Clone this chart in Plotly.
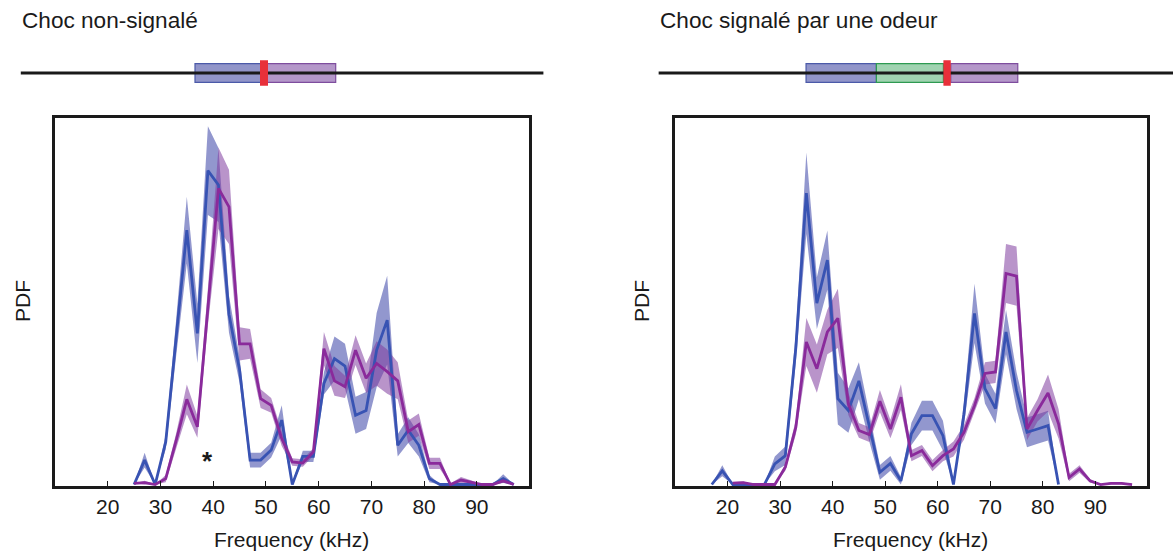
import plotly.graph_objects as go

# ---------------- data ----------------
# Left panel: "Choc non-signalé"
freq_left = list(range(25, 98, 2))
blue_left_mean = [0, 0.066, 0, 0.115, 0.40, 0.687, 0.408, 0.848, 0.809, 0.46,
                  0.31, 0.066, 0.066, 0.093, 0.174, 0, 0.076, 0.076, 0.273, 0.34,
                  0.32, 0.187, 0.20, 0.363, 0.444, 0.106, 0.147, 0.106, 0.016, 0,
                  0, 0, 0, 0, 0, 0.016, 0]
blue_left_sem = [0, 0.02, 0, 0.02, 0.05, 0.09, 0.08, 0.12, 0.10, 0.05,
                 0.035, 0.02, 0.02, 0.02, 0.04, 0.005, 0.015, 0.015, 0.03, 0.06,
                 0.06, 0.05, 0.05, 0.10, 0.12, 0.03, 0.035, 0.03, 0.01, 0,
                 0, 0, 0, 0, 0, 0.012, 0]
purple_left_mean = [0.003, 0.005, 0, 0.016, 0.12, 0.23, 0.156, 0.48, 0.80, 0.75,
                    0.38, 0.38, 0.232, 0.214, 0.124, 0.061, 0.058, 0.088, 0.367, 0.28,
                    0.264, 0.363, 0.287, 0.327, 0.305, 0.28, 0.143, 0.162, 0.057, 0.057,
                    0, 0.012, 0.006, 0, 0, 0.01, 0]
purple_left_sem = [0, 0.005, 0, 0.01, 0.02, 0.04, 0.03, 0.05, 0.11, 0.10,
                   0.045, 0.04, 0.025, 0.02, 0.02, 0.01, 0.01, 0.01, 0.045, 0.04,
                   0.03, 0.04, 0.04, 0.06, 0.06, 0.05, 0.03, 0.03, 0.015, 0.015,
                   0.003, 0.008, 0.005, 0, 0, 0.005, 0]

# Right panel: "Choc signalé par une odeur"
freq_right_blue = list(range(17, 84, 2))
blue_right_mean = [0, 0.037, 0, 0, 0, 0, 0.056, 0.078, 0.37, 0.787,
                   0.49, 0.606, 0.232, 0.20, 0.28, 0.155, 0.033, 0.057, 0.01, 0.137,
                   0.186, 0.186, 0.132, 0, 0.19, 0.462, 0.259, 0.205, 0.412, 0.254,
                   0.141, 0.15, 0.159, 0]
blue_right_sem = [0, 0.015, 0, 0, 0, 0, 0.02, 0.025, 0.04, 0.11,
                  0.07, 0.08, 0.07, 0.06, 0.05, 0.04, 0.02, 0.02, 0.01, 0.03,
                  0.04, 0.04, 0.04, 0.005, 0.03, 0.08, 0.04, 0.04, 0.06, 0.05,
                  0.04, 0.04, 0.04, 0]
freq_right_purple = list(range(21, 98, 2))
purple_right_mean = [0.004, 0.005, 0, 0, 0, 0.047, 0.155, 0.385, 0.313, 0.412,
                     0.449, 0.218, 0.146, 0.135, 0.225, 0.15, 0.236, 0.078, 0.092, 0.051,
                     0.078, 0.096, 0.141, 0.213, 0.30, 0.304, 0.57, 0.563, 0.15, 0.20,
                     0.247, 0.164, 0.019, 0.042, 0.01, 0, 0.003, 0.003, 0]
purple_right_sem = [0.003, 0.003, 0, 0, 0, 0.01, 0.02, 0.065, 0.065, 0.06,
                    0.08, 0.03, 0.02, 0.02, 0.03, 0.025, 0.035, 0.015, 0.015, 0.015,
                    0.015, 0.02, 0.02, 0.02, 0.03, 0.03, 0.08, 0.08, 0.03, 0.03,
                    0.05, 0.04, 0.01, 0.01, 0.005, 0, 0.003, 0.003, 0]

x_ticks = [20, 30, 40, 50, 60, 70, 80, 90]
panel_titles = ["Choc non-signalé", "Choc signalé par une odeur"]

# Timelines (arbitrary seconds, shock at t = 0)
tl_left_line = [-36, 42]
tl_left_start = [-10.0, 0.0]
tl_left_end = [0.0, 11.0]
tl_left_kind = ["pre", "post"]
tl_left_shock = [-0.3, 0.9]
tl_right_line = [-42.5, 40]
tl_right_start = [-20.5, -10.0, 1.1]
tl_right_end = [-10.0, 0.0, 11.1]
tl_right_kind = ["pre", "odor", "post"]
tl_right_shock = [0.0, 1.1]

# ---------------- style ----------------
W, H = 1173, 551
FONT = "Liberation Sans, Arial, sans-serif"
BLUE = "#3853b3"
PURPLE = "#8a2a9b"
BLUE_BAND = "rgba(68,75,170,0.58)"
PURPLE_BAND = "rgba(128,60,158,0.55)"
KIND_FILL = {"pre": "#9195c9", "odor": "#a0d3b1", "post": "#b497c9"}
KIND_LINE = {"pre": "#4b5aa9", "odor": "#2e9a52", "post": "#7e4d9e"}
RED = "#e8303a"
PXS = 6.7  # timeline pixels per second
SPLIT = 600  # pixel split between the two timeline strips


def px(p):
    return p / W


def py(p):
    return 1 - p / H


fig = go.Figure()


def band(x, m, s, color, xa, ya):
    up = [a + b for a, b in zip(m, s)]
    lo = [max(a - b, 0) for a, b in zip(m, s)]
    fig.add_trace(go.Scatter(x=list(x) + list(x)[::-1], y=up + lo[::-1], fill="toself",
                             fillcolor=color, line=dict(width=0), mode="lines",
                             hoverinfo="skip", showlegend=False, xaxis=xa, yaxis=ya))


def line(x, m, color, xa, ya):
    fig.add_trace(go.Scatter(x=x, y=m, mode="lines", line=dict(color=color, width=2.8),
                             showlegend=False, xaxis=xa, yaxis=ya))


band(freq_left, blue_left_mean, blue_left_sem, BLUE_BAND, "x", "y")
band(freq_left, purple_left_mean, purple_left_sem, PURPLE_BAND, "x", "y")
line(freq_left, blue_left_mean, BLUE, "x", "y")
line(freq_left, purple_left_mean, PURPLE, "x", "y")

band(freq_right_blue, blue_right_mean, blue_right_sem, BLUE_BAND, "x2", "y2")
band(freq_right_purple, purple_right_mean, purple_right_sem, PURPLE_BAND, "x2", "y2")
line(freq_right_blue, blue_right_mean, BLUE, "x2", "y2")
line(freq_right_purple, purple_right_mean, PURPLE, "x2", "y2")

# timeline baselines
fig.add_trace(go.Scatter(x=tl_left_line, y=[0, 0], mode="lines",
                         line=dict(color="#1a1a1a", width=3), showlegend=False,
                         xaxis="x3", yaxis="y3", hoverinfo="skip"))
fig.add_trace(go.Scatter(x=tl_right_line, y=[0, 0], mode="lines",
                         line=dict(color="#1a1a1a", width=3), showlegend=False,
                         xaxis="x4", yaxis="y4", hoverinfo="skip"))

shapes = []
for xa, ya, starts, ends, kinds, shock in [
        ("x3", "y3", tl_left_start, tl_left_end, tl_left_kind, tl_left_shock),
        ("x4", "y4", tl_right_start, tl_right_end, tl_right_kind, tl_right_shock)]:
    for a, b, k in zip(starts, ends, kinds):
        shapes.append(dict(type="rect", xref=xa, yref=ya, x0=a, x1=b, y0=-0.62, y1=0.62,
                           fillcolor=KIND_FILL[k], line=dict(color=KIND_LINE[k], width=1.2),
                           layer="below"))
    shapes.append(dict(type="rect", xref=xa, yref=ya, x0=shock[0], x1=shock[1],
                       y0=-0.85, y1=0.85, fillcolor=RED, line=dict(width=0), layer="above"))

axis_common = dict(showline=True, mirror=True, linewidth=3, linecolor="#1a1a1a",
                   showgrid=False, zeroline=False)
xax = dict(axis_common, range=[10, 99.8], tickvals=x_ticks, ticks="inside", ticklen=5,
           tickwidth=1.3, tickcolor="#1a1a1a", ticklabelstandoff=0,
           tickfont=dict(family=FONT, size=21, color="#1a1a1a"))
yax = dict(axis_common, range=[-0.004, 0.99], showticklabels=False, ticks="")

ydom = [py(486), py(118)]
tl_dom = [py(88), py(58)]
fig.update_layout(
    width=W, height=H, margin=dict(l=0, r=0, t=0, b=0),
    paper_bgcolor="white", plot_bgcolor="white",
    font=dict(family=FONT, color="#1a1a1a"),
    xaxis=dict(xax, domain=[px(55), px(528.5)], anchor="y"),
    yaxis=dict(yax, domain=ydom, anchor="x"),
    xaxis2=dict(xax, domain=[px(675), px(1146.8)], anchor="y2"),
    yaxis2=dict(yax, domain=ydom, anchor="x2"),
    xaxis3=dict(domain=[0, px(SPLIT)], range=[-262 / PXS, (SPLIT - 262) / PXS],
                visible=False, anchor="y3"),
    yaxis3=dict(domain=tl_dom, range=[-1, 1], visible=False, anchor="x3"),
    xaxis4=dict(domain=[px(SPLIT), 1], range=[(SPLIT - 943.4) / PXS, (W - 943.4) / PXS],
                visible=False, anchor="y4"),
    yaxis4=dict(domain=tl_dom, range=[-1, 1], visible=False, anchor="x4"),
    shapes=shapes,
)

ann = []
ann.append(dict(text=panel_titles[0], x=px(20), y=py(21), xref="paper", yref="paper",
                xanchor="left", yanchor="middle", showarrow=False, font=dict(size=22.6)))
ann.append(dict(text=panel_titles[1], x=px(658.5), y=py(21), xref="paper", yref="paper",
                xanchor="left", yanchor="middle", showarrow=False, font=dict(size=22.6)))
for cx in [(55 + 528.5) / 2, (675 + 1146.8) / 2]:
    ann.append(dict(text="Frequency (kHz)", x=px(cx), y=py(539), xref="paper", yref="paper",
                    xanchor="center", yanchor="middle", showarrow=False, font=dict(size=21)))
for cx in [22, 641]:
    ann.append(dict(text="PDF", x=px(cx), y=py(301), xref="paper", yref="paper",
                    xanchor="center", yanchor="middle", textangle=-90, showarrow=False,
                    font=dict(size=21)))
ann.append(dict(text="<b>*</b>", x=39, y=0.078, xref="x", yref="y", yshift=-5,
                xanchor="center", yanchor="middle", showarrow=False, font=dict(size=26)))
fig.update_layout(annotations=ann)

fig.write_html("out.html", config={"displayModeBar": False},
               post_script="document.body.style.margin='0px';document.body.style.overflow='hidden';")
